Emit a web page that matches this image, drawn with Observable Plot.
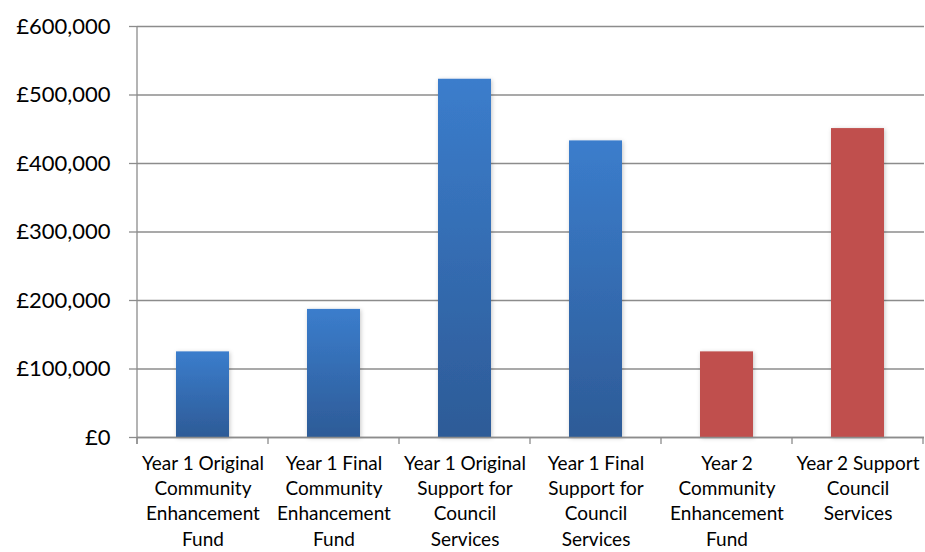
<!DOCTYPE html>
<html>
<head>
<meta charset="utf-8">
<script src="https://cdn.jsdelivr.net/npm/d3@7"></script>
<script src="https://cdn.jsdelivr.net/npm/@observablehq/plot@0.6"></script>
<style>
  html, body { margin: 0; padding: 0; background: #fff; }
  #chart svg { display: block; font-family: Lato, "Open Sans", sans-serif; color: #000; }
</style>
</head>
<body>
<div id="chart"></div>
<script>
const categories = [
  "Year 1 Original Community Enhancement Fund",
  "Year 1 Final Community Enhancement Fund",
  "Year 1 Original Support for Council Services",
  "Year 1 Final Support for Council Services",
  "Year 2 Community Enhancement Fund",
  "Year 2 Support Council Services"
];
const tickLabels = [
  "Year 1 Original\nCommunity\nEnhancement\nFund",
  "Year 1 Final\nCommunity\nEnhancement\nFund",
  "Year 1 Original\nSupport for\nCouncil\nServices",
  "Year 1 Final\nSupport for\nCouncil\nServices",
  "Year 2\nCommunity\nEnhancement\nFund",
  "Year 2 Support\nCouncil\nServices"
];
const values = [125000, 187000, 523000, 433000, 125000, 451000];
const years = [1, 1, 1, 1, 2, 2];
const yTicks = [0, 100000, 200000, 300000, 400000, 500000, 600000];

const data = categories.map((c, i) => ({category: c, value: values[i], year: years[i]}));
const labelOf = new Map(categories.map((c, i) => [c, tickLabels[i]]));
const gridColor = "#8c8c8c";

const plot = Plot.plot({
  width: 925,
  height: 552,
  marginLeft: 137,
  marginRight: 1,
  marginTop: 26,
  marginBottom: 115,
  x: {domain: categories, paddingInner: 0.595, paddingOuter: 0.2975, label: null},
  y: {domain: [0, 600000], label: null},
  marks: [
    Plot.gridY(yTicks, {stroke: gridColor, strokeOpacity: 1, strokeWidth: 1.3}),
    Plot.barY(data.filter(d => d.year === 1), {x: "category", y: "value", fill: "url(#blueGrad)"}),
    Plot.barY(data.filter(d => d.year === 2), {x: "category", y: "value", fill: "#c0504d"}),
    Plot.ruleY([0], {stroke: gridColor, strokeWidth: 1.3}),
    Plot.axisY(yTicks, {
      tickSize: 8, tickPadding: 19, stroke: gridColor, strokeWidth: 1.3,
      fill: "#000", fontSize: 22, label: null,
      tickFormat: d => "£" + d3.format(",")(d)
    }),
    Plot.axisX({
      tickSize: 0, tickPadding: 14, fill: "#000", fontSize: 19, lineHeight: 1.34,
      label: null, tickFormat: d => labelOf.get(d)
    })
  ]
});

const svg = d3.select(plot);
const defs = svg.insert("defs", ":first-child");
const grad = defs.append("linearGradient").attr("id", "blueGrad")
  .attr("x1", 0).attr("y1", 0).attr("x2", 0).attr("y2", 1);
grad.append("stop").attr("offset", "0%").attr("stop-color", "#3b7dcc");
grad.append("stop").attr("offset", "100%").attr("stop-color", "#2d5b97");
const filt = defs.append("filter").attr("id", "shadow")
  .attr("x", "-20%").attr("y", "-5%").attr("width", "140%").attr("height", "110%");
filt.append("feDropShadow").attr("dx", 1).attr("dy", 1).attr("stdDeviation", 2)
  .attr("flood-color", "#000").attr("flood-opacity", 0.22);
svg.selectAll("g[aria-label=bar]").attr("filter", "url(#shadow)");

// left axis line and category boundary ticks, placed with the plot's scales
const xs = plot.scale("x");
const ys = plot.scale("y");
const y0 = ys.apply(0);
const yTop = ys.apply(600000);
const xLeft = xs.range[0];
const gap = (xs.step - xs.bandwidth) / 2;
const bounds = categories.map(c => xs.apply(c) - gap);
bounds.push(xs.apply(categories[categories.length - 1]) + xs.bandwidth + gap);
const g = svg.append("g");
g.append("line").attr("x1", xLeft).attr("x2", xLeft).attr("y1", yTop).attr("y2", y0 + 7)
  .attr("stroke", gridColor).attr("stroke-width", 1.3);
g.selectAll("line.b").data(bounds).join("line").attr("class", "b")
  .attr("x1", d => d).attr("x2", d => d)
  .attr("y1", y0).attr("y2", y0 + 7)
  .attr("stroke", gridColor).attr("stroke-width", 1.3);

document.getElementById("chart").appendChild(plot);
</script>
</body>
</html>
